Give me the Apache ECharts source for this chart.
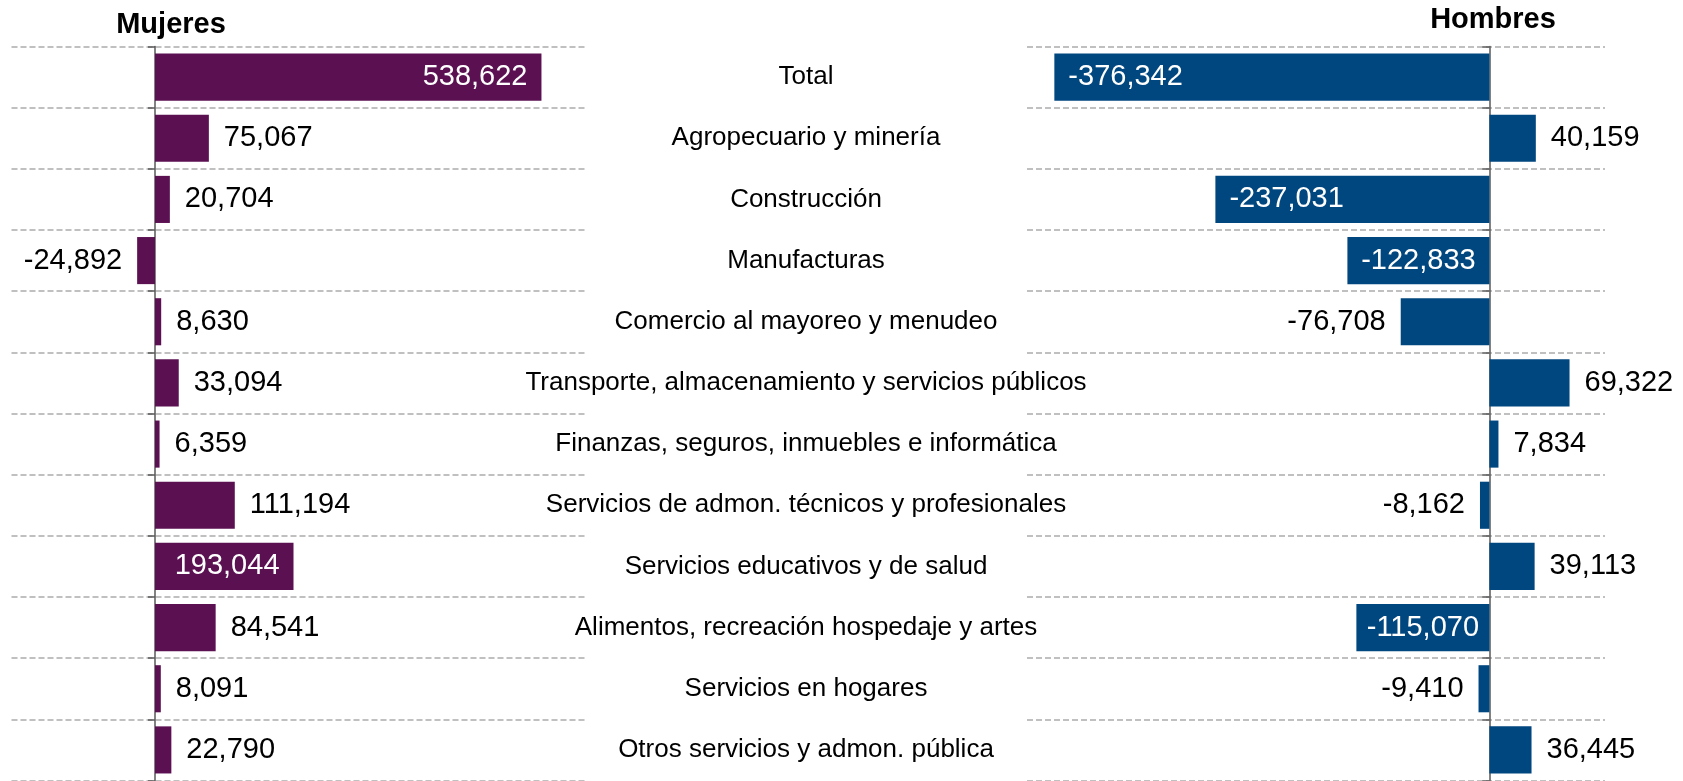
<!DOCTYPE html>
<html>
<head>
<meta charset="utf-8">
<script src="https://cdn.jsdelivr.net/npm/echarts@6/dist/echarts.min.js"></script>
<style>
  html, body { margin: 0; padding: 0; background: #fff; }
</style>
</head>
<body>
<div id="main" style="width: 1683px;height:781px;"></div>
<script>
var categories = [
  'Total',
  'Agropecuario y minería',
  'Construcción',
  'Manufacturas',
  'Comercio al mayoreo y menudeo',
  'Transporte, almacenamiento y servicios públicos',
  'Finanzas, seguros, inmuebles e informática',
  'Servicios de admon. técnicos y profesionales',
  'Servicios educativos y de salud',
  'Alimentos, recreación hospedaje y artes',
  'Servicios en hogares',
  'Otros servicios y admon. pública'
]
var mujeres = [538622, 75067, 20704, -24892, 8630, 33094, 6359, 111194, 193044, 84541, 8091, 22790]
var hombres = [-376342, 40159, -237031, -122833, -76708, 69322, 7834, -8162, 39113, -115070, -9410, 36445]

// etiquetas que van dentro de la barra (texto blanco)
var dentroMujeres = {0: 'insideRight', 8: 'insideRight'}
var dentroHombres = {0: 'insideLeft', 2: 'insideLeft', 3: 'inside', 9: 'inside'}

var fuente = 'Liberation Sans, Arial, sans-serif'
var morado = '#5B1052'
var azul = '#00467F'

function fmt (v) {
  return v.toLocaleString('en-US')
}

function armarDatos (valores, dentro) {
  var datos = []
  for (var i = 0; i < valores.length; i++) {
    var v = valores[i]
    var pos = dentro[i]
    var label
    if (pos) {
      label = {position: pos, color: '#fff', distance: 14}
    } else {
      label = {position: v < 0 ? 'left' : 'right', color: '#000', distance: 15}
    }
    datos.push({value: v, label: label})
  }
  return datos
}

var myChart = echarts.init(document.getElementById('main'))

var ejeCategoria = function (grid) {
  return {
    type: 'category',
    gridIndex: grid,
    inverse: true,
    data: categories,
    axisLine: {show: true, onZero: true, lineStyle: {color: '#595959', width: 1.5}},
    axisTick: {show: true, length: 7, lineStyle: {color: '#595959', width: 1.5}},
    axisLabel: {show: false},
    splitLine: {show: true, lineStyle: {color: '#C0C0C0', width: 2, type: [6, 3]}}
  }
}

var option = {
  animation: false,
  textStyle: {fontFamily: fuente},
  grid: [
    {left: 11.5, top: 46.5, width: 574, height: 734},
    {left: 1027, top: 46.5, width: 578, height: 734},
    {left: 806, top: 46.5, width: 1, height: 734}
  ],
  xAxis: [
    {type: 'value', gridIndex: 0, min: -200000, max: 600000, show: false, splitLine: {show: false}},
    {type: 'value', gridIndex: 1, min: -400000, max: 100000, show: false, splitLine: {show: false}},
    {type: 'value', gridIndex: 2, min: 0, max: 1, show: false, splitLine: {show: false}}
  ],
  yAxis: [
    ejeCategoria(0),
    ejeCategoria(1),
    {
      type: 'category',
      gridIndex: 2,
      inverse: true,
      data: categories,
      axisLine: {show: false},
      axisTick: {show: false},
      splitLine: {show: false},
      axisLabel: {
        show: true,
        align: 'center',
        margin: 0,
        color: '#000',
        fontSize: 26,
        fontFamily: fuente
      }
    }
  ],
  graphic: [
    {type: 'text', left: 'auto', x: 171, y: 25,
      style: {text: 'Mujeres', fill: '#000', font: 'bold 29px ' + fuente, textAlign: 'center', textVerticalAlign: 'middle'}},
    {type: 'text', x: 1493, y: 20,
      style: {text: 'Hombres', fill: '#000', font: 'bold 29px ' + fuente, textAlign: 'center', textVerticalAlign: 'middle'}}
  ],
  series: [
    {
      name: 'Mujeres',
      type: 'bar',
      xAxisIndex: 0,
      yAxisIndex: 0,
      barCategoryGap: '23%',
      itemStyle: {color: morado},
      label: {show: true, fontSize: 29, fontFamily: fuente, formatter: function (p) { return fmt(p.value) }},
      data: armarDatos(mujeres, dentroMujeres)
    },
    {
      name: 'Hombres',
      type: 'bar',
      xAxisIndex: 1,
      yAxisIndex: 1,
      barCategoryGap: '23%',
      itemStyle: {color: azul},
      label: {show: true, fontSize: 29, fontFamily: fuente, formatter: function (p) { return fmt(p.value) }},
      data: armarDatos(hombres, dentroHombres)
    }
  ]
}

myChart.setOption(option)
</script>
</body>
</html>
